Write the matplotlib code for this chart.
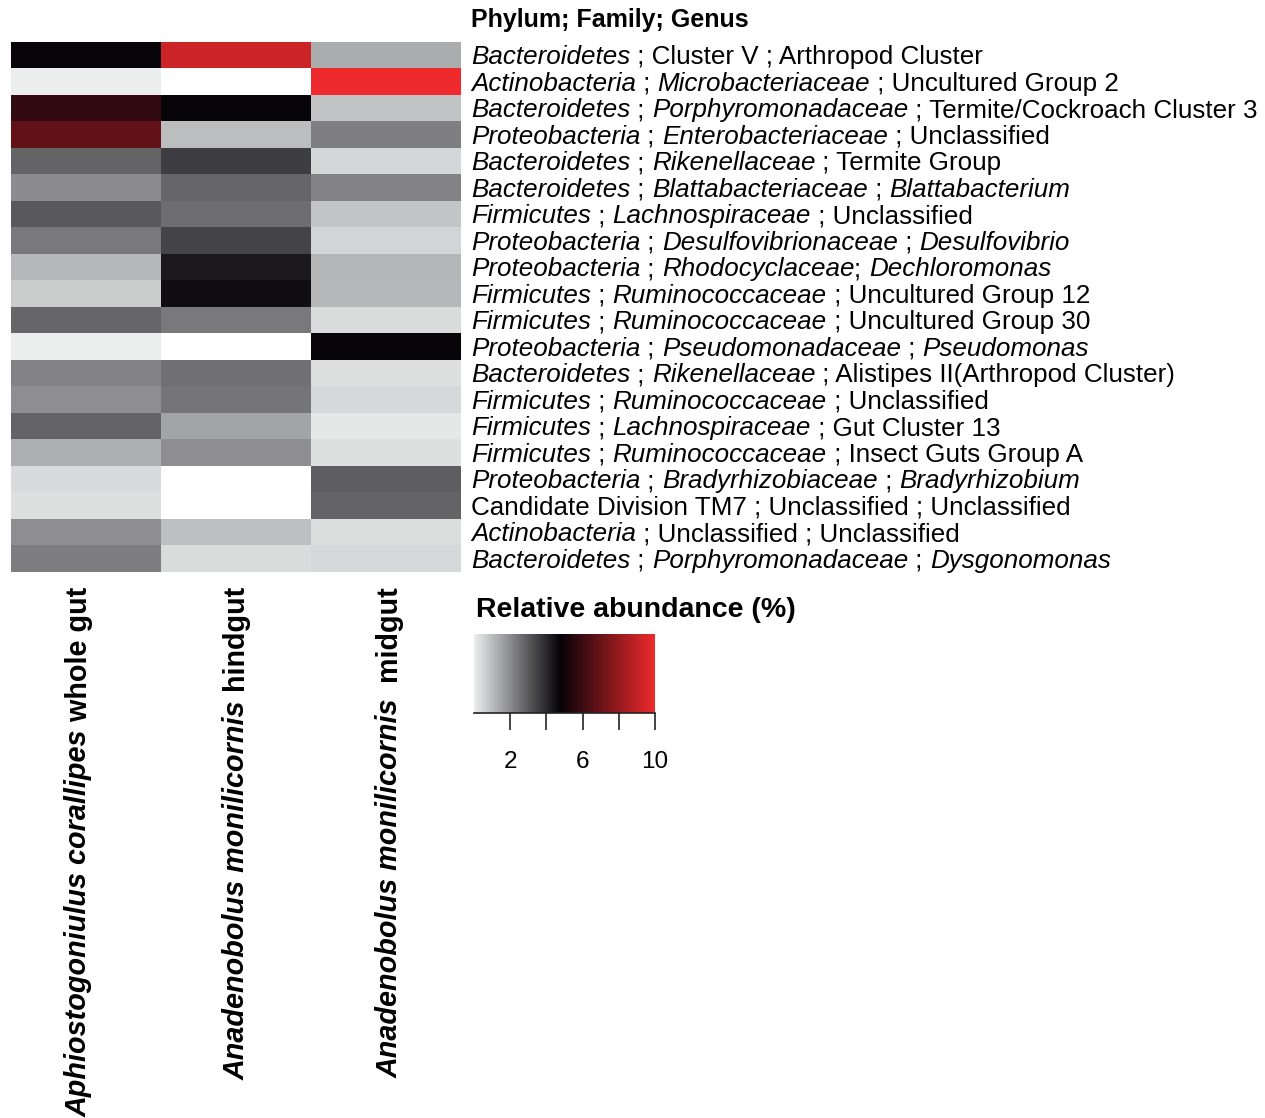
import numpy as np
import matplotlib
matplotlib.use('Agg')
import matplotlib.pyplot as plt
from matplotlib.colors import LinearSegmentedColormap
from matplotlib.font_manager import FontProperties

plt.rcParams['font.family'] = 'Liberation Sans'

# sample (column) labels: (italic part, plain part)
samples = [("Aphiostogoniulus corallipes", " whole gut"),
           ("Anadenobolus monilicornis", " hindgut"),
           ("Anadenobolus monilicornis", "  midgut")]

# row labels, text between * is italic
taxa = [
    "*Bacteroidetes* ; Cluster V ; Arthropod Cluster",
    "*Actinobacteria* ; *Microbacteriaceae* ; Uncultured Group 2",
    "*Bacteroidetes* ; *Porphyromonadaceae* ; Termite/Cockroach Cluster 3",
    "*Proteobacteria* ; *Enterobacteriaceae* ; Unclassified",
    "*Bacteroidetes* ; *Rikenellaceae* ; Termite Group",
    "*Bacteroidetes* ; *Blattabacteriaceae* ; *Blattabacterium*",
    "*Firmicutes* ; *Lachnospiraceae* ; Unclassified",
    "*Proteobacteria* ; *Desulfovibrionaceae* ; *Desulfovibrio*",
    "*Proteobacteria* ; *Rhodocyclaceae*; *Dechloromonas*",
    "*Firmicutes* ; *Ruminococcaceae* ; Uncultured Group 12",
    "*Firmicutes* ; *Ruminococcaceae* ; Uncultured Group 30",
    "*Proteobacteria* ; *Pseudomonadaceae* ; *Pseudomonas*",
    "*Bacteroidetes* ; *Rikenellaceae* ; Alistipes II(Arthropod Cluster)",
    "*Firmicutes* ; *Ruminococcaceae* ; Unclassified",
    "*Firmicutes* ; *Lachnospiraceae* ; Gut Cluster 13",
    "*Firmicutes* ; *Ruminococcaceae* ; Insect Guts Group A",
    "*Proteobacteria* ; *Bradyrhizobiaceae* ; *Bradyrhizobium*",
    "Candidate Division TM7 ; Unclassified ; Unclassified",
    "*Actinobacteria* ; Unclassified ; Unclassified",
    "*Bacteroidetes* ; *Porphyromonadaceae* ; *Dysgonomonas*",
]

# relative abundance (%)
whole_gut = [4.7, 0.04, 5.79, 6.87, 2.8, 1.97, 3.02, 2.35, 1.11, 0.70,
             2.76, 0.04, 2.15, 1.95, 2.8, 1.27, 0.42, 0.30, 1.95, 2.29]
hindgut = [9.25, 0, 4.7, 1.0, 3.58, 2.74, 2.58, 3.46, 4.33, 4.51,
           2.37, 0, 2.56, 2.46, 1.49, 1.93, 0, 0, 0.95, 0.38]
midgut = [1.33, 10, 0.89, 2.25, 0.48, 2.15, 0.85, 0.54, 1.15, 1.13,
          0.38, 4.72, 0.30, 0.44, 0.14, 0.30, 2.9, 2.8, 0.34, 0.44]

cbar_ticks = [2, 4, 6, 8, 10]
cbar_labels = ['2', '', '6', '', '10']

W, H = 1265, 1118
fig = plt.figure(figsize=(W / 100, H / 100), dpi=100)
r = fig.canvas.get_renderer()


def fx(x):
    return x / W


def fy(y):
    return 1 - y / H


def seg_width(s, fp):
    w1 = r.get_text_width_height_descent("|" + s + "|", fp, False)[0]
    w0 = r.get_text_width_height_descent("||", fp, False)[0]
    return w1 - w0


cmap = LinearSegmentedColormap.from_list(
    'abund', [(0, '#eceeee'), (0.475, '#050308'), (1.0, '#ee2a2c')])
cmap.set_under('white')

data = np.array([whole_gut, hindgut, midgut]).T

ax = fig.add_axes([fx(11), fy(572), (461 - 11) / W, (572 - 42) / H])
ax.imshow(data, cmap=cmap, vmin=0.001, vmax=10, aspect='auto',
          interpolation='nearest')
ax.set_axis_off()

# row labels
row_h = (572 - 42) / len(taxa)
fs_row = 18.7
for i, lab in enumerate(taxa):
    y = 44 + row_h * (i + 0.5)
    x = 471
    for k, seg in enumerate(lab.split('*')):
        if not seg:
            continue
        fp = FontProperties(family='Liberation Sans', size=fs_row,
                            style='italic' if k % 2 else 'normal')
        fig.text(fx(x), fy(y), seg, fontproperties=fp, ha='left', va='center')
        x += seg_width(seg, fp)

fig.text(fx(471), fy(20), "Phylum; Family; Genus", fontsize=18,
         fontweight='bold', ha='left', va='center')

# column labels (rotated, top aligned)
col_x = [79, 237, 390]
fs_col = 20.7
for cx, (it, pl) in zip(col_x, samples):
    fp_it = FontProperties(family='Liberation Sans', size=fs_col,
                           style='italic', weight='bold')
    fp_pl = FontProperties(family='Liberation Sans', size=fs_col,
                           weight='bold')
    w_it = seg_width(it, fp_it)
    w_pl = seg_width(pl, fp_pl)
    y = 587 + w_it + w_pl
    fig.text(fx(cx), fy(y), it, fontproperties=fp_it, rotation=90,
             rotation_mode='anchor', ha='left', va='center')
    fig.text(fx(cx), fy(y - w_it), pl, fontproperties=fp_pl, rotation=90,
             rotation_mode='anchor', ha='left', va='center')

# colour key
cax = fig.add_axes([fx(474), fy(713), (655 - 474) / W, (713 - 634) / H])
grad = np.linspace(0.01, 10, 300).reshape(1, -1)
cax.imshow(grad, cmap=cmap, vmin=0.001, vmax=10, aspect='auto',
           extent=(0, 10, 0, 1))
for side in ['top', 'left', 'right']:
    cax.spines[side].set_visible(False)
cax.spines['bottom'].set_linewidth(1.2)
cax.spines['bottom'].set_color('#222222')
cax.set_yticks([])
cax.set_xticks(cbar_ticks)
cax.set_xticklabels(cbar_labels, fontsize=17.5)
cax.tick_params(axis='x', length=12, width=1.2, color='#222222', pad=15)
cax.set_xlim(0, 10)

fig.text(fx(476), fy(610), "Relative abundance (%)", fontsize=20.5,
         fontweight='bold', ha='left', va='center')

fig.savefig('out.png', dpi=100)
